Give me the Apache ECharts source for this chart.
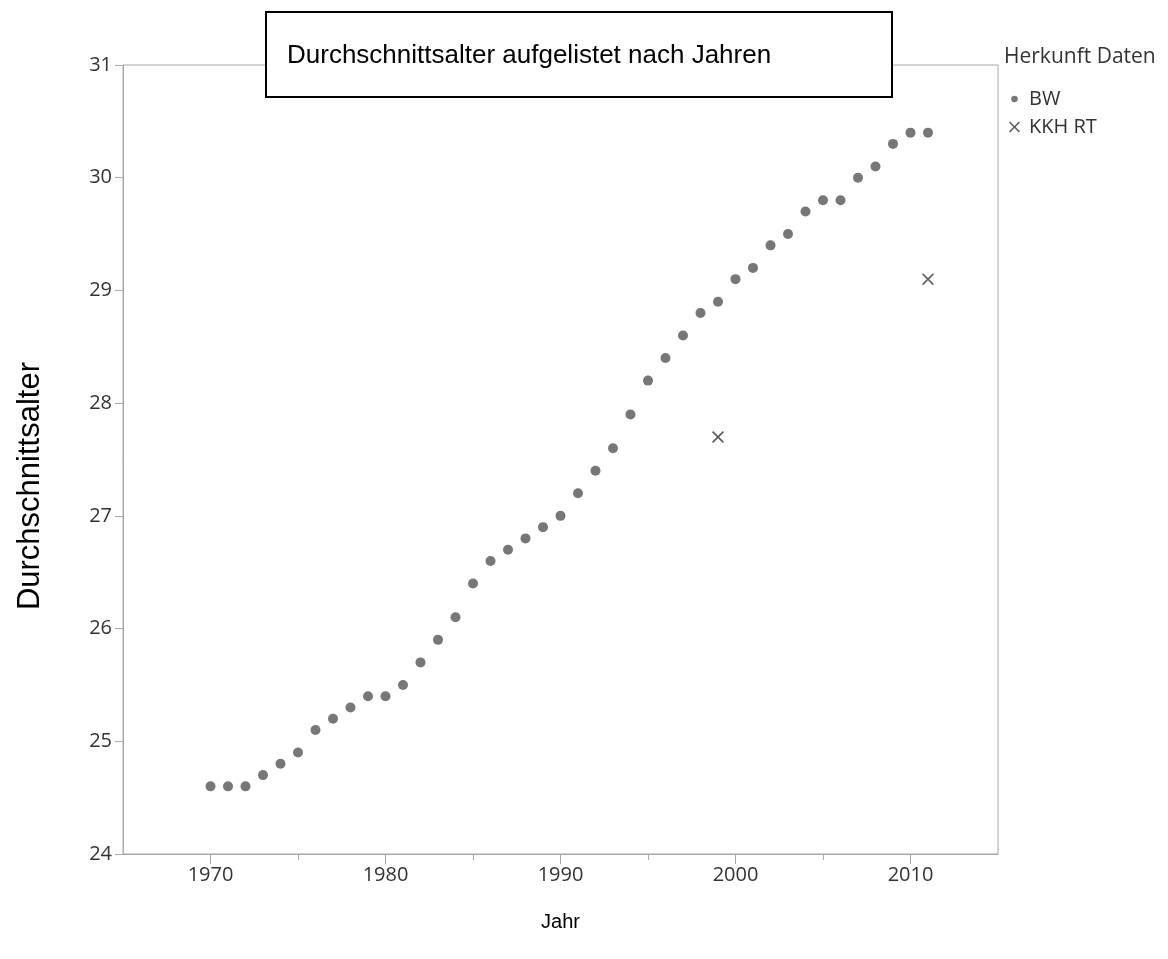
<!DOCTYPE html>
<html>
<head>
<meta charset="utf-8">
<script src="https://cdn.jsdelivr.net/npm/echarts@6/dist/echarts.min.js"></script>
<style>html,body{margin:0;padding:0;background:#fff;}#c{width:1168px;height:959px;}</style>
</head>
<body>
<div id="c"></div>
<script>
var years = [1970,1971,1972,1973,1974,1975,1976,1977,1978,1979,1980,1981,1982,1983,1984,1985,1986,1987,1988,1989,1990,1991,1992,1993,1994,1995,1996,1997,1998,1999,2000,2001,2002,2003,2004,2005,2006,2007,2008,2009,2010,2011];
var bwValues = [24.6,24.6,24.6,24.7,24.8,24.9,25.1,25.2,25.3,25.4,25.4,25.5,25.7,25.9,26.1,26.4,26.6,26.7,26.8,26.9,27.0,27.2,27.4,27.6,27.9,28.2,28.4,28.6,28.8,28.9,29.1,29.2,29.4,29.5,29.7,29.8,29.8,30.0,30.1,30.3,30.4,30.4];
var kkhYears = [1999, 2011];
var kkhValues = [27.7, 29.1];
var xMajorTicks = [1970,1980,1990,2000,2010];
var xMinorTicks = [1975,1985,1995,2005];

var bwData = years.map(function(y,i){return [y,bwValues[i]];});
var kkhData = kkhYears.map(function(y,i){return [y,kkhValues[i]];});
var crossPath = 'path://M1,0L5,4L9,0L10,1L6,5L10,9L9,10L5,6L1,10L0,9L4,5L0,1Z';
var smallDot = 'path://M0,0L0.01,0M10,10L10.01,10M5,2A3,3,0,1,1,4.99,2Z';
var tickFontFamily = 'Open Sans';
var tickFontSize = 20;
var tickColor = '#333';
var axisGray = '#a8a8a8';

var chart = echarts.init(document.getElementById('c'));
chart.setOption({
  animation:false,
  backgroundColor:'#fff',
  title:[{
    text:'Herkunft Daten', left:999, top:42,
    textStyle:{fontFamily:'Open Sans', fontSize:21, fontWeight:'normal', color:'#333'}
  }],
  legend:{
    orient:'vertical', left:1004, top:84, itemGap:8, itemWidth:11, itemHeight:11,
    textStyle:{fontFamily:'Open Sans', fontSize:20, color:'#333', padding:[0,0,0,4]},
    data:[{name:'BW', icon:smallDot, itemStyle:{color:'#555'}},{name:'KKH RT', icon:crossPath, itemStyle:{color:'#333'}}]
  },
  grid:{left:123, right:170, top:65, bottom:105, show:true, borderColor:axisGray, borderWidth:1, containLabel:false},
  xAxis:[{
    type:'value', min:1965, max:2015, interval:5,
    name:'Jahr', nameLocation:'middle', nameGap:58,
    nameTextStyle:{fontFamily:'Liberation Sans', fontSize:20, color:'#000'},
    axisLine:{show:true, lineStyle:{color:axisGray}},
    axisTick:{show:true, customValues:xMajorTicks, length:10, lineStyle:{color:axisGray}},
    axisLabel:{customValues:xMajorTicks, margin:11, fontFamily:tickFontFamily, fontSize:tickFontSize, color:tickColor,
      formatter:function(v){return String(v);}},
    splitLine:{show:false}
  },{
    type:'value', min:1965, max:2015, position:'bottom', interval:5,
    axisLine:{show:false},
    axisTick:{show:true, customValues:xMinorTicks, length:6, lineStyle:{color:axisGray}},
    axisLabel:{show:false},
    splitLine:{show:false}
  }],
  yAxis:{
    type:'value', min:24, max:31, interval:1,
    axisLine:{show:true, lineStyle:{color:axisGray}},
    axisTick:{show:true, length:8, lineStyle:{color:axisGray}},
    axisLabel:{margin:11, fontFamily:tickFontFamily, fontSize:tickFontSize, color:tickColor},
    splitLine:{show:false}
  },
  graphic:[
    {type:'rect', left:265, top:11, z:100, shape:{width:626, height:85}, style:{fill:'#fff', stroke:'#000', lineWidth:2}},
    {type:'text', left:287, top:43, z:101, style:{text:'Durchschnittsalter aufgelistet nach Jahren', font:'26px "Liberation Sans"', fill:'#000'}},
    {type:'text', left:15, top:362, rotation:Math.PI/2, z:101, style:{text:'Durchschnittsalter', font:'31px "Liberation Sans"', fill:'#000'}}
  ],
  series:[
    {name:'BW', type:'scatter', data:bwData, symbol:'circle', symbolSize:10, itemStyle:{color:'#555'}},
    {name:'KKH RT', type:'scatter', data:kkhData, symbol:crossPath, symbolSize:12, itemStyle:{color:'#333'}}
  ]
});
</script>
</body>
</html>
